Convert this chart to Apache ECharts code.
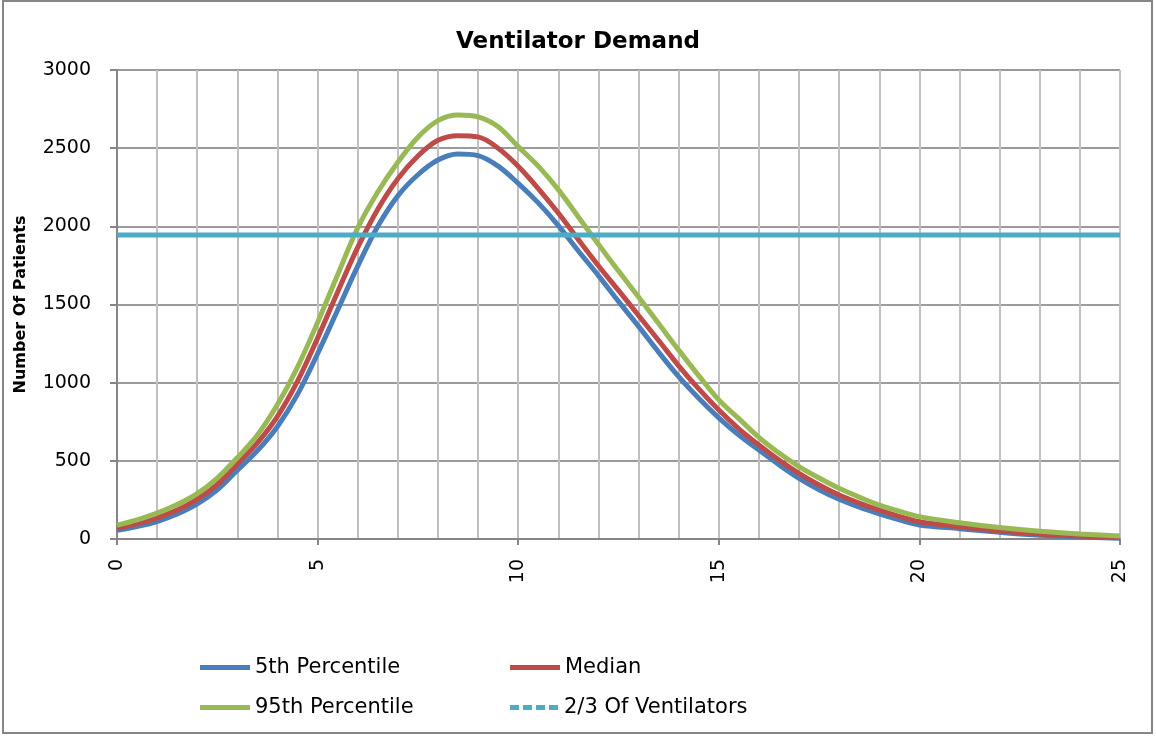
<!DOCTYPE html>
<html>
<head>
<meta charset="utf-8">
<script src="https://cdn.jsdelivr.net/npm/echarts@6/dist/echarts.min.js"></script>
<style>
html,body{margin:0;padding:0;background:#fff;}
#chart{width:1156px;height:736px;}
</style>
</head>
<body>
<div id="chart"></div>
<script>
// Days since start
const days = [0,0.5,1,1.5,2,2.5,3,3.5,4,4.5,5,5.5,6,6.5,7,7.5,8,8.5,9,9.5,10,10.5,11,11.5,12,12.5,13,13.5,14,14.5,15,15.5,16,16.5,17,17.5,18,18.5,19,19.5,20,21,22,23,24,25];
const p5 = [55,80,112,160,225,315,440,565,720,925,1185,1465,1745,2000,2195,2330,2424,2462,2452,2385,2275,2150,2005,1842,1685,1520,1360,1195,1038,900,775,665,569,475,388,315,254,203,160,122,90,66,43,24,13,5];
const median = [68,98,135,185,255,350,480,615,785,1010,1285,1580,1865,2110,2305,2450,2550,2580,2572,2500,2385,2242,2085,1915,1748,1590,1430,1270,1108,960,825,705,601,505,420,345,281,230,185,145,110,78,51,32,19,9];
const p95 = [88,122,165,220,290,390,520,665,860,1100,1385,1690,1990,2220,2410,2570,2676,2712,2700,2637,2510,2385,2235,2060,1885,1715,1548,1378,1208,1045,890,770,650,550,463,390,324,268,217,178,143,104,73,49,32,19];
const ventilatorLevel = 1945;
const ventilatorDays = [0,25];
const seriesNames = ['5th Percentile','Median','95th Percentile','2/3 Of Ventilators'];
const colors = ['#4a7ebb','#be4b48','#98b954','#4bacc6'];

const pairs = arr => days.map((d,i)=>[d,arr[i]]);
const font = '"DejaVu Sans", sans-serif';

const chart = echarts.init(document.getElementById('chart'));
const lineSeries = (name, data, color, z) => ({
  name, type:'line', data, symbol:'none', smooth:0.35, z,
  lineStyle:{color, width:5}, itemStyle:{color}, animation:false
});

const solidIcon = 'path://M0,0H50V5H0Z';
const dashIcon = 'path://M0,0H9V5H0Z M13,0H22V5H13Z M26,0H35V5H26Z M39,0H48V5H39Z';
const legendPos = [[195,652],[505,652],[195,692],[505,692]];
const legends = seriesNames.map((n,i)=>({
  data:[{name:n, icon: i===3 ? dashIcon : solidIcon}],
  left: legendPos[i][0], top: legendPos[i][1],
  itemWidth:50, itemHeight:5, itemGap:5,
  textStyle:{fontFamily:font, fontSize:21, color:'#000'},
  selectedMode:false
}));

chart.setOption({
  animation:false,
  color: colors,
  title:{text:'Ventilator Demand', left:'center', top:26,
    textStyle:{fontFamily:font, fontSize:23, fontWeight:'bold', color:'#000'}},
  legend: legends,
  grid:{left:117, right:36, top:70, bottom:197},
  xAxis:{
    type:'value', min:0, max:25, interval:5,
    axisLine:{show:true, lineStyle:{color:'#868686', width:2}},
    axisTick:{show:true, length:6, lineStyle:{color:'#868686', width:2}},
    minorTick:{show:false, splitNumber:5},
    splitLine:{show:true, lineStyle:{color:'#c0c0c0', width:2}},
    minorSplitLine:{show:true, lineStyle:{color:'#c0c0c0', width:2}},
    axisLabel:{rotate:90, margin:20, fontFamily:font, fontSize:19, color:'#000'}
  },
  yAxis:{
    type:'value', min:0, max:3000, interval:500,
    name:'Number Of Patients', nameLocation:'middle', nameGap:88, nameRotate:90,
    nameTextStyle:{fontFamily:font, fontSize:16, fontWeight:'bold', color:'#000'},
    axisLine:{show:true, lineStyle:{color:'#868686', width:2}},
    axisTick:{show:true, length:7, lineStyle:{color:'#868686', width:2}},
    splitLine:{show:true, lineStyle:{color:'#9a9a9a', width:2}},
    axisLabel:{margin:26, fontFamily:font, fontSize:19, color:'#000', formatter: v => String(v)}
  },
  graphic:[{type:'rect', shape:{x:3, y:1, width:1149, height:732},
    style:{fill:'none', stroke:'#868686', lineWidth:2}, silent:true, z:-10}],
  series:[
    lineSeries(seriesNames[0], pairs(p5), colors[0], 2),
    lineSeries(seriesNames[1], pairs(median), colors[1], 3),
    lineSeries(seriesNames[2], pairs(p95), colors[2], 4),
    {name:seriesNames[3], type:'line', symbol:'none', z:5, animation:false,
     data: ventilatorDays.map(d=>[d, ventilatorLevel]),
     lineStyle:{color:colors[3], width:5}, itemStyle:{color:colors[3]}}
  ]
});
</script>
</body>
</html>
